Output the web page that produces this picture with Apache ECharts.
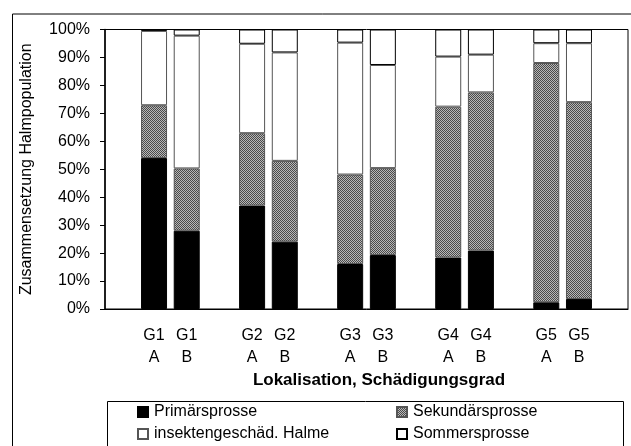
<!DOCTYPE html>
<html>
<head>
<meta charset="utf-8">
<script src="https://cdn.jsdelivr.net/npm/echarts@6/dist/echarts.min.js"></script>
<style>
html,body{margin:0;padding:0;background:#fff;}
#chart{width:631px;height:446px;}
</style>
</head>
<body>
<div id="chart"></div>
<script>
// ---- data ----
const groups = ["G1", "G2", "G3", "G4", "G5"];
const variants = ["A", "B"];
const yTicks = [0, 10, 20, 30, 40, 50, 60, 70, 80, 90, 100];
const seriesNames = ["Primärsprosse", "Sekundärsprosse", "insektengeschäd. Halme", "Sommersprosse"];
// order of bars: G1A, G1B, G2A, G2B, G3A, G3B, G4A, G4B, G5A, G5B
const primaer   = [54.0, 28.0, 37.0, 24.1, 16.1, 19.3, 18.4, 20.9, 2.4, 3.6];
const sekundaer = [18.9, 22.3, 25.9, 28.9, 32.0, 31.1, 54.0, 56.6, 85.6, 70.4];
const insekt    = [26.6, 47.5, 32.0, 38.8, 47.2, 36.9, 17.9, 13.5, 7.1, 21.1];
const sommer    = [0.5, 2.2, 5.1, 8.2, 4.7, 12.7, 9.7, 9.0, 4.9, 4.9];

// ---- build category axis with blank slots between groups ----
const categories = [""];
const slotIndex = [];
groups.forEach(g => {
  variants.forEach(v => { slotIndex.push(categories.length); categories.push(g + "\n" + v); });
  categories.push("");
});
function expand(arr) {
  const out = categories.map(() => '-');
  arr.forEach((v, i) => { out[slotIndex[i]] = v; });
  return out;
}

// dotted pattern for Sekundärsprosse
const pc = document.createElement('canvas');
pc.width = 2; pc.height = 2;
const px = pc.getContext('2d');
px.fillStyle = '#b8b8b8'; px.fillRect(0, 0, 2, 2);
px.fillStyle = '#4a4a4a'; px.fillRect(0, 0, 1, 1); px.fillRect(1, 1, 1, 1);
const pattern = { image: pc, repeat: 'repeat' };

const FONT = '"Liberation Sans", Arial, sans-serif';
const chart = echarts.init(document.getElementById('chart'), null, { renderer: 'canvas' });

const styles = [
  { color: '#000000', borderColor: '#000000', borderWidth: 1 },
  { color: pattern, borderColor: '#555555', borderWidth: 1 },
  { color: '#ffffff', borderColor: '#555555', borderWidth: 1 },
  { color: '#ffffff', borderColor: '#000000', borderWidth: 1 }
];
const values = [primaer, sekundaer, insekt, sommer];

const legendPos = [
  { left: 137, top: 404 },
  { left: 396, top: 404 },
  { left: 137, top: 426 },
  { left: 396, top: 426 }
];

chart.setOption({
  animation: false,
  backgroundColor: '#ffffff',
  textStyle: { fontFamily: FONT },
  grid: { left: 105, right: 3, top: 29.5, bottom: 137, show: true, borderColor: '#000', borderWidth: 1 },
  legend: seriesNames.map((n, i) => ({
    data: [n], left: legendPos[i].left, top: legendPos[i].top,
    itemWidth: 10, itemHeight: 10, itemGap: 10, selectedMode: false,
    textStyle: { fontFamily: FONT, fontSize: 16, color: '#000', padding: [0, 0, 0, 1] },
    icon: 'rect', padding: 0
  })),
  xAxis: {
    type: 'category',
    data: categories,
    axisLine: { lineStyle: { color: '#000', width: 1 } },
    axisTick: { show: false },
    axisLabel: { interval: 0, fontFamily: FONT, fontSize: 16, color: '#000', lineHeight: 22, margin: 16 },
    splitLine: { show: false }
  },
  yAxis: {
    type: 'value', min: 0, max: 100, interval: 10,
    name: 'Zusammensetzung Halmpopulation',
    nameLocation: 'middle', nameGap: 70,
    nameTextStyle: { fontFamily: FONT, fontSize: 16, color: '#000' },
    axisLine: { show: true, lineStyle: { color: '#000', width: 1.5 } },
    axisTick: { show: true, inside: false, length: 5, lineStyle: { color: '#000' } },
    axisLabel: { fontFamily: FONT, fontSize: 16, color: '#000', margin: 15,
      formatter: v => yTicks.indexOf(v) >= 0 ? v + '%' : '' },
    splitLine: { show: false }
  },
  series: seriesNames.map((n, i) => ({
    name: n, type: 'bar', stack: 'total', barWidth: 26,
    data: expand(values[i]),
    itemStyle: styles[i],
    emphasis: { disabled: true }
  })),
  graphic: [
    { type: 'rect', left: 10, top: 11.5, silent: true,
      shape: { width: 630, height: 450 },
      style: { fill: 'none', stroke: '#000', lineWidth: 1 } },
    { type: 'rect', left: 105, top: 399, silent: true,
      shape: { width: 516, height: 60 },
      style: { fill: 'none', stroke: '#000', lineWidth: 1 } },
    { type: 'text', x: 379, y: 380, silent: true,
      style: { text: 'Lokalisation, Schädigungsgrad', fontFamily: FONT, fontSize: 17, fontWeight: 'bold',
        fill: '#000', align: 'center', verticalAlign: 'middle' } }
  ]
});
</script>
</body>
</html>
